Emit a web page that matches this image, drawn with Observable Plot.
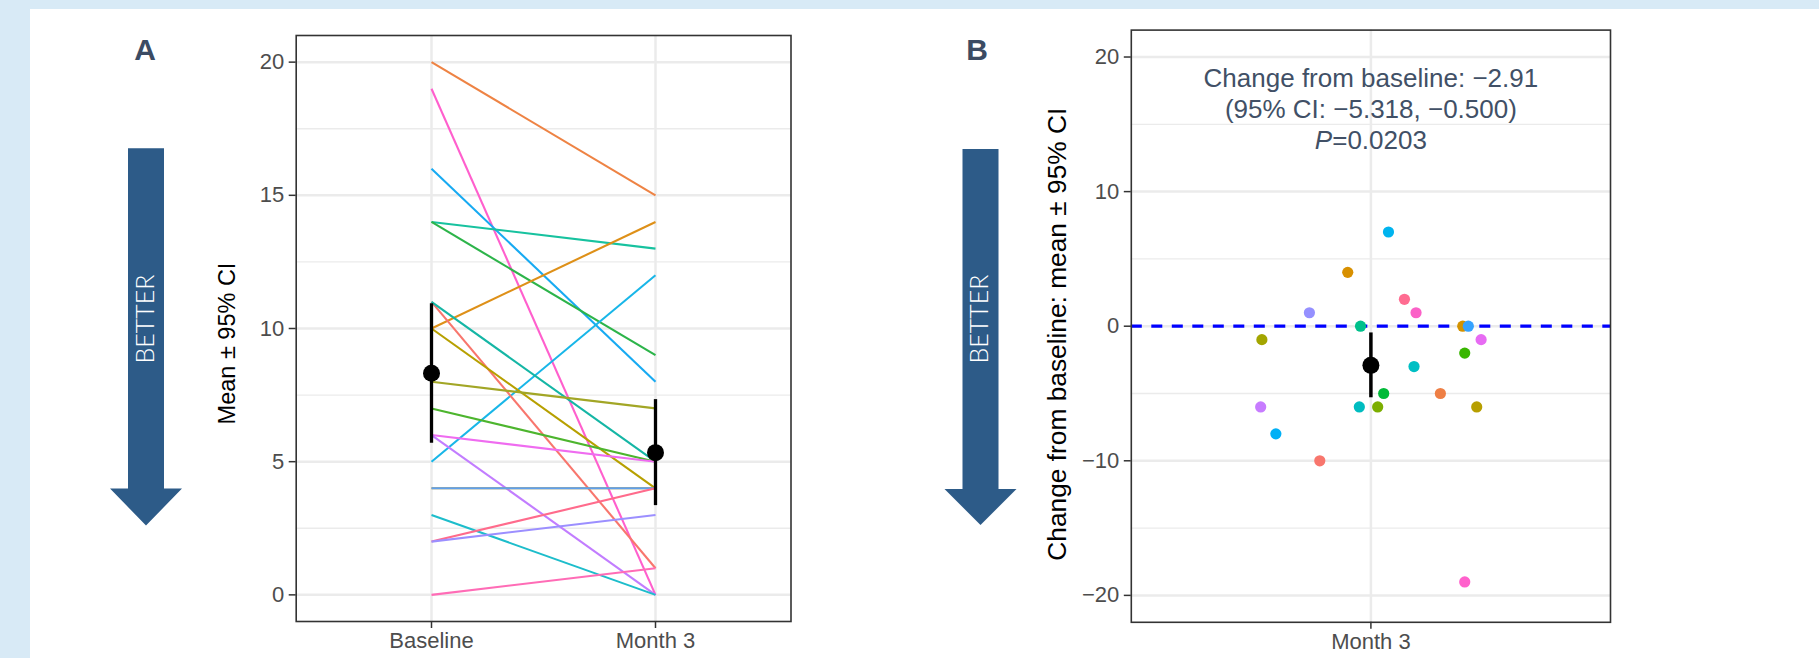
<!DOCTYPE html>
<html>
<head>
<meta charset="utf-8">
<script src="https://cdn.jsdelivr.net/npm/d3@7"></script>
<script src="https://cdn.jsdelivr.net/npm/@observablehq/plot@0.6"></script>
<style>
  body { margin: 0; }
  #page { position: relative; width: 1819px; height: 658px; background: #d8eaf6; overflow: hidden;
          font-family: "Liberation Sans", Arial, sans-serif; }
  #sheet { position: absolute; left: 30px; top: 9px; right: 0; bottom: 0; background: #ffffff; }
  #panelA { position: absolute; left: 180px; top: 0; width: 640px; height: 658px; }
  #panelB { position: absolute; left: 1020px; top: 0; width: 640px; height: 658px; }
  #panelA svg, #panelB svg { background: transparent; max-width: none; }
  #deco { position: absolute; left: 0; top: 0; pointer-events: none; }
</style>
</head>
<body>
<div id="page">
  <div id="sheet"></div>
  <svg id="deco" width="1819" height="658"></svg>
  <div id="panelA"></div>
  <div id="panelB"></div>
</div>
<script>
// ---------- Panel A data (individual trajectories) ----------
const timepoints = ["Baseline", "Month 3"];
const baselineA = [20, 19, 16, 14, 14, 10, 5, 11, 11, 10, 8, 7, 6, 6, 4, 4, 3, 2, 2, 0];
const month3A   = [15,  0,  8, 13,  9, 14, 12, 1,  5,  4, 7, 5, 5, 0, 4, 4, 0, 4, 3, 1];
const lineColorsA = ["#EE8344", "#FF5FCD", "#17AAF2", "#17C29F", "#2DB44A", "#DE9018", "#18B6E8",
                     "#F8766D", "#15B6A5", "#B7A000", "#A2A626", "#4DB52E", "#EF6CF0", "#C27DFF",
                     "#C99A10", "#5FA0EE", "#1DBDCB", "#FF6B8C", "#9C8FFF", "#FF6CB6"];
const meanA   = [8.32, 5.34];
const ciLowA  = [5.69, 3.35];
const ciHighA = [10.93, 7.33];
const yTicksA = [0, 5, 10, 15, 20];
const yMinorA = [2.5, 7.5, 12.5, 17.5];

// ---------- Panel B data (change from baseline) ----------
const changeB = [7, 4, 1, 2, 1, 0, 0, 0, -1, -1, -2, -3, -5, -5, -6, -6, -6, -6, -8, -10, -19];
const jitterB = [0.044, -0.058, -0.154, 0.084, 0.113, -0.026, 0.23, 0.244, -0.273, 0.276, 0.235,
                 0.108, 0.032, 0.174, -0.276, -0.029, 0.017, 0.265, -0.238, -0.128, 0.235];
const pointColorsB = ["#00B4EF", "#D89000", "#9590FF", "#FF6C91", "#FB61C7", "#00C08B", "#D39200",
                      "#35A2FF", "#A3A500", "#E76BF3", "#39B600", "#00BFC4", "#00BA38", "#EE7F45",
                      "#C77CFF", "#00BCC0", "#7CAE00", "#B79F00", "#00B0F6", "#F8766D", "#FF61CC"];
const meanB = -2.91;
const ciLowB = -5.318;
const ciHighB = -0.500;
const yTicksB = [-20, -10, 0, 10, 20];
const yMinorB = [-15, -5, 5, 15];
const xCategoryB = ["Month 3"];
const annotationB = ["Change from baseline: \u22122.91", "(95% CI: \u22125.318, \u22120.500)", "P=0.0203"];

// ---------- tables ----------
const linesA = baselineA.map((b, i) => ({bl: b, m3: month3A[i], col: lineColorsA[i]}));
const meansA = timepoints.map((t, i) => ({t, mean: meanA[i], lo: ciLowA[i], hi: ciHighA[i]}));
const pointsB = changeB.map((c, i) => ({chg: c, jit: jitterB[i], col: pointColorsB[i]}));
const meanRowB = [{mean: meanB, lo: ciLowB, hi: ciHighB}];

const FONT = '"Liberation Sans", Arial, sans-serif';
const GRID = "#ebebeb";
const BORDER = "#333333";
const TICKTXT = "#4d4d4d";
const TICKFS = 22;

// ---------- Panel A ----------
const plotA = Plot.plot({
  width: 640, height: 658,
  marginLeft: 115.7, marginRight: 29.5, marginTop: 35, marginBottom: 37,
  style: {fontFamily: FONT, background: "transparent", overflow: "visible"},
  x: {type: "point", domain: timepoints, padding: 0.6, label: null},
  y: {domain: [-1, 21], label: null},
  color: {type: "identity"},
  marks: [
    Plot.gridY(yMinorA, {stroke: GRID, strokeOpacity: 1, strokeWidth: 1.3}),
    Plot.gridY(yTicksA, {stroke: GRID, strokeOpacity: 1, strokeWidth: 2.5}),
    Plot.gridX(timepoints, {stroke: GRID, strokeOpacity: 1, strokeWidth: 2.5}),
    Plot.link(linesA, {x1: () => "Baseline", x2: () => "Month 3", y1: "bl", y2: "m3",
                       stroke: "col", strokeWidth: 2.1}),
    Plot.ruleX(meansA, {x: "t", y1: "lo", y2: "hi", stroke: "black", strokeWidth: 3.3}),
    Plot.dot(meansA, {x: "t", y: "mean", r: 8.5, fill: "black", stroke: null}),
    Plot.frame({stroke: BORDER, strokeWidth: 1.6}),
    Plot.axisY(yTicksA, {tickSize: 7, tickPadding: 5, fontSize: TICKFS, stroke: BORDER, strokeWidth: 1.5,
                         fill: TICKTXT, label: null}),
    Plot.axisX(timepoints, {tickSize: 7, tickPadding: 4, fontSize: TICKFS, stroke: BORDER, strokeWidth: 1.5,
                            fill: TICKTXT, label: null}),
    Plot.text(["Mean \u00b1 95% CI"], {frameAnchor: "left", textAnchor: "middle", dx: -69, dy: 15,
                                         rotate: -90, fontSize: 23.5, fill: "black"})
  ]
});
document.getElementById("panelA").appendChild(plotA);

// ---------- Panel B ----------
const plotB = Plot.plot({
  width: 640, height: 658,
  marginLeft: 110.8, marginRight: 50, marginTop: 29.6, marginBottom: 36.2,
  style: {fontFamily: FONT, background: "transparent", overflow: "visible"},
  x: {domain: [0.4, 1.6], label: null},
  y: {domain: [-22, 22], label: null},
  color: {type: "identity"},
  marks: [
    Plot.gridY(yMinorB, {stroke: GRID, strokeOpacity: 1, strokeWidth: 1.3}),
    Plot.gridY(yTicksB, {stroke: GRID, strokeOpacity: 1, strokeWidth: 2.5}),
    Plot.gridX([1], {stroke: GRID, strokeOpacity: 1, strokeWidth: 2.5}),
    Plot.ruleY([0], {stroke: "#0000ff", strokeWidth: 3.3, strokeDasharray: "11,9.5"}),
    Plot.dot(pointsB, {x: d => 1 + d.jit, y: "chg", r: 5.6, fill: "col", stroke: null}),
    Plot.ruleX(meanRowB, {x: () => 1, y1: "lo", y2: "hi", stroke: "black", strokeWidth: 3.5}),
    Plot.dot(meanRowB, {x: () => 1, y: "mean", r: 8.5, fill: "black", stroke: null}),
    Plot.frame({stroke: BORDER, strokeWidth: 1.6}),
    Plot.axisY(yTicksB, {tickSize: 7, tickPadding: 5, fontSize: TICKFS, stroke: BORDER, strokeWidth: 1.5,
                         fill: TICKTXT, label: null}),
    Plot.axisX([1], {tickSize: 7, tickPadding: 4, fontSize: TICKFS, stroke: BORDER, strokeWidth: 1.5,
                     fill: TICKTXT, label: null, tickFormat: (d, i) => xCategoryB[i]}),
    Plot.text(["Change from baseline: mean \u00b1 95% CI"],
              {frameAnchor: "left", textAnchor: "middle", dx: -74, dy: 8, rotate: -90, fontSize: 26.3,
               fill: "black"}),
    Plot.text([annotationB.join("\n")],
              {frameAnchor: "top", lineAnchor: "middle", dy: 78, fontSize: 26, lineHeight: 1.2,
               fill: "#415066"})
  ]
});
document.getElementById("panelB").appendChild(plotB);

// italic P in the annotation
d3.select(plotB).selectAll("tspan, text").each(function () {
  if (this.childNodes.length === 1 && this.textContent === "P=0.0203") {
    const el = d3.select(this);
    el.text("");
    el.append("tspan").attr("font-style", "italic").text("P");
    el.append("tspan").text("=0.0203");
  }
});

// ---------- decorations: panel letters and BETTER arrows ----------
const deco = d3.select("#deco");
const arrowColor = "#2d5b88";
function arrow(cx, top, headY, tip) {
  const pts = [[cx - 18, top], [cx + 18, top], [cx + 18, headY], [cx + 36, headY], [cx, tip],
               [cx - 36, headY], [cx - 18, headY]];
  deco.append("polygon").attr("points", pts.map(p => p.join(",")).join(" ")).attr("fill", arrowColor);
}
arrow(146, 148.3, 488.5, 525.5);
arrow(980.5, 149, 489, 525);
[[153.5, 319], [988, 319]].forEach(([x, y]) => {
  deco.append("text").attr("transform", `translate(${x},${y}) rotate(-90)`)
    .attr("text-anchor", "middle").attr("fill", "#ffffff")
    .attr("font-family", "Lato, 'Open Sans', sans-serif").attr("font-weight", 300)
    .attr("font-size", 25).text("BETTER");
});
[["A", 145, 60], ["B", 977, 60]].forEach(([t, x, y]) => {
  deco.append("text").attr("x", x).attr("y", y).attr("text-anchor", "middle")
    .attr("font-family", FONT).attr("font-weight", "bold").attr("font-size", 30)
    .attr("fill", "#3b4b63").text(t);
});
</script>
</body>
</html>
